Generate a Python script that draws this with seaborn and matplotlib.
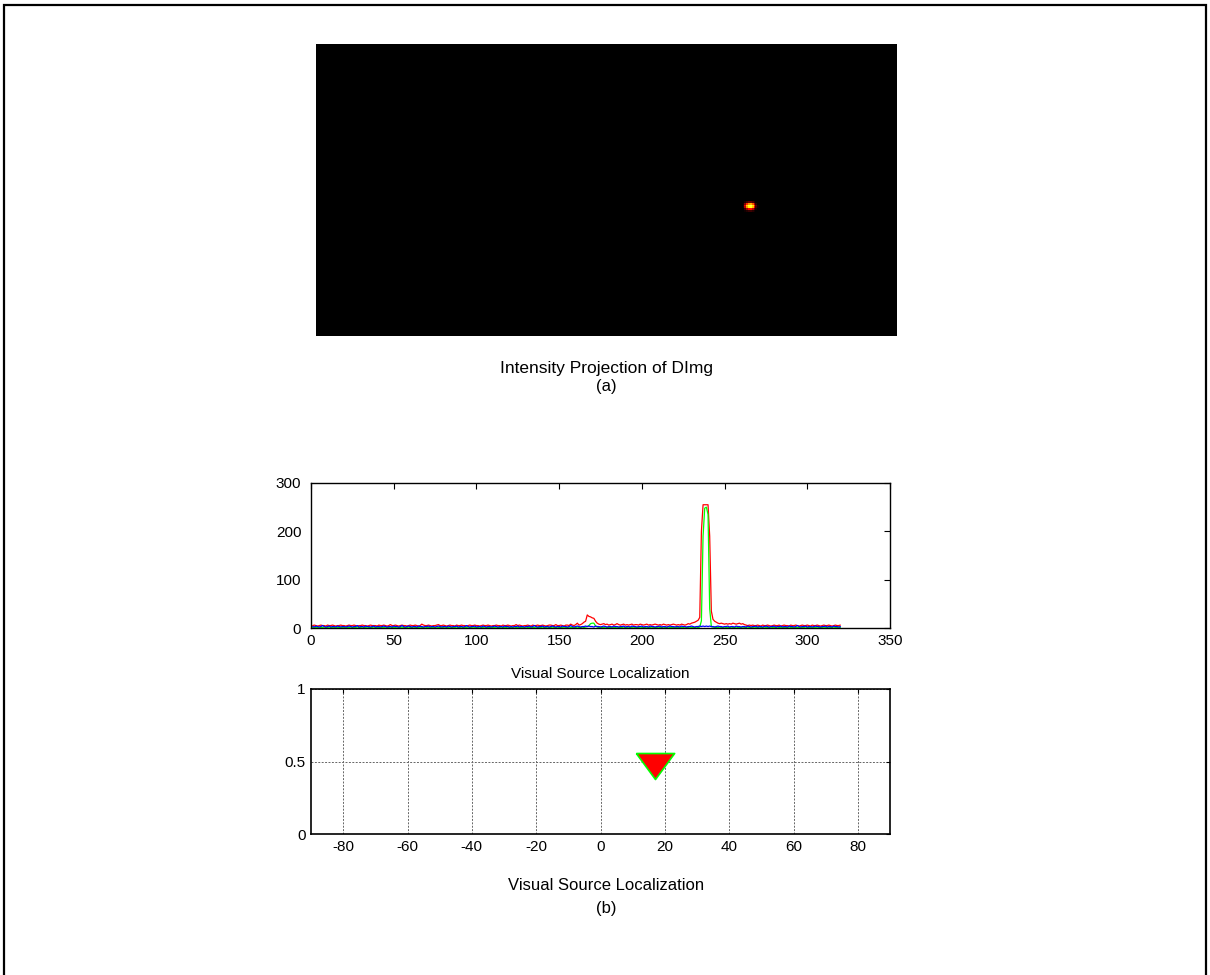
import numpy as np
import pandas as pd
import matplotlib
matplotlib.use("Agg")
import matplotlib.pyplot as plt
from matplotlib.patches import Rectangle
import seaborn as sns

# ---- data -----------------------------------------------------------------
# Per-column intensity of the R, G, B channels (columns 1..320)
red = [
    5, 6, 5, 4, 5, 6, 5, 5, 4, 6, 5, 5, 6, 5, 4, 5, 5, 6, 5, 5,
    4, 5, 6, 5, 5, 6, 5, 4, 5, 5, 6, 5, 5, 4, 5, 6, 5, 5, 5, 4,
    6, 5, 5, 6, 5, 4, 5, 7, 5, 5, 6, 5, 4, 5, 6, 5, 5, 4, 5, 6,
    5, 5, 6, 5, 4, 5, 8, 6, 5, 5, 6, 5, 4, 5, 5, 6, 7, 5, 5, 6,
    5, 4, 5, 6, 5, 5, 4, 6, 5, 5, 6, 5, 5, 4, 5, 6, 5, 5, 6, 5,
    5, 4, 5, 6, 5, 5, 6, 5, 4, 5, 5, 6, 5, 5, 4, 6, 5, 5, 6, 5,
    4, 5, 5, 7, 5, 6, 5, 4, 5, 5, 6, 5, 4, 6, 5, 5, 6, 5, 5, 6,
    5, 4, 5, 6, 6, 5, 5, 7, 5, 5, 6, 5, 4, 6, 6, 5, 8, 6, 5, 7,
    10, 6, 7, 9, 12, 14, 27, 24, 23, 21, 20, 14, 10, 8, 7, 8, 9, 7, 8, 6,
    7, 8, 6, 7, 9, 7, 6, 7, 8, 6, 7, 6, 7, 8, 6, 7, 7, 6, 8, 7,
    6, 7, 8, 6, 7, 6, 7, 8, 7, 6, 7, 6, 8, 7, 6, 7, 6, 7, 8, 7,
    6, 7, 6, 8, 7, 6, 7, 9, 8, 10, 11, 12, 14, 16, 22, 200, 255, 255, 255, 255,
    190, 35, 18, 14, 12, 10, 9, 10, 9, 8, 9, 8, 9, 8, 10, 9, 8, 9, 10, 8,
    9, 7, 6, 5, 6, 5, 6, 5, 5, 6, 5, 4, 6, 5, 5, 6, 5, 4, 5, 6,
    5, 5, 6, 4, 5, 6, 5, 5, 4, 6, 5, 5, 6, 5, 4, 5, 6, 5, 5, 6,
    5, 4, 6, 5, 5, 6, 5, 4, 5, 6, 5, 5, 6, 5, 4, 5, 6, 5, 5, 6,
]
green = [
    1, 2, 1, 1, 2, 1, 1, 2, 1, 1, 2, 1, 1, 1, 2, 1, 1, 2, 1, 1,
    2, 1, 1, 2, 1, 1, 1, 2, 1, 1, 2, 1, 1, 2, 1, 1, 1, 2, 1, 1,
    1, 2, 1, 1, 2, 1, 1, 2, 1, 1, 1, 2, 1, 1, 2, 1, 1, 1, 2, 1,
    1, 2, 1, 1, 1, 2, 1, 1, 2, 1, 1, 2, 1, 1, 1, 2, 1, 1, 2, 1,
    2, 1, 1, 2, 1, 1, 1, 2, 1, 1, 2, 1, 1, 1, 2, 1, 1, 2, 1, 1,
    1, 2, 1, 1, 2, 1, 1, 1, 2, 1, 1, 2, 1, 1, 2, 1, 1, 1, 2, 1,
    1, 1, 2, 1, 1, 2, 1, 1, 1, 2, 1, 1, 2, 1, 1, 2, 1, 1, 1, 2,
    1, 1, 2, 1, 1, 2, 1, 1, 2, 1, 1, 1, 2, 1, 1, 2, 1, 1, 2, 1,
    2, 1, 1, 2, 1, 2, 3, 5, 9, 10, 10, 4, 2, 1, 2, 1, 1, 2, 1, 1,
    1, 2, 1, 1, 2, 1, 1, 1, 2, 1, 1, 2, 1, 1, 2, 1, 1, 1, 2, 1,
    1, 1, 2, 1, 1, 2, 1, 1, 1, 2, 1, 1, 2, 1, 1, 2, 1, 1, 1, 2,
    1, 1, 2, 1, 1, 2, 1, 1, 2, 1, 1, 1, 2, 1, 2, 15, 190, 248, 250, 235,
    40, 3, 2, 2, 1, 1, 2, 1, 1, 2, 1, 1, 1, 2, 1, 1, 2, 1, 1, 1,
    2, 1, 1, 2, 1, 1, 1, 2, 1, 1, 2, 1, 1, 2, 1, 1, 1, 2, 1, 1,
    1, 2, 1, 1, 2, 1, 1, 1, 2, 1, 1, 2, 1, 1, 1, 2, 1, 1, 2, 1,
    1, 1, 2, 1, 1, 2, 1, 1, 1, 2, 1, 1, 2, 1, 1, 2, 1, 1, 2, 1,
]
blue = [
    3, 2, 4, 3, 2, 3, 5, 3, 2, 3, 4, 2, 3, 3, 2, 4, 3, 2, 3, 3,
    2, 3, 4, 3, 2, 3, 3, 5, 2, 3, 3, 2, 4, 3, 3, 2, 3, 4, 2, 3,
    3, 2, 3, 4, 3, 2, 3, 3, 2, 4, 3, 3, 2, 3, 5, 3, 2, 3, 4, 3,
    2, 3, 3, 2, 4, 3, 3, 2, 3, 3, 4, 2, 3, 3, 2, 3, 4, 3, 2, 3,
    3, 2, 4, 3, 2, 3, 3, 4, 2, 3, 3, 2, 3, 5, 3, 2, 3, 3, 4, 2,
    3, 3, 2, 4, 3, 2, 3, 3, 2, 3, 4, 3, 2, 3, 3, 2, 4, 3, 3, 2,
    3, 2, 3, 3, 4, 2, 3, 3, 2, 3, 3, 4, 2, 3, 5, 3, 2, 3, 3, 4,
    2, 3, 3, 2, 3, 4, 3, 2, 3, 3, 2, 4, 3, 3, 2, 3, 5, 3, 2, 3,
    4, 3, 2, 3, 3, 4, 3, 4, 3, 3, 2, 4, 3, 3, 2, 3, 4, 3, 2, 3,
    3, 2, 4, 3, 3, 2, 3, 3, 4, 2, 3, 3, 2, 4, 3, 3, 2, 3, 3, 4,
    2, 3, 3, 2, 4, 3, 3, 2, 3, 3, 4, 2, 3, 3, 2, 3, 4, 3, 3, 2,
    3, 3, 2, 4, 3, 3, 2, 3, 3, 4, 3, 2, 3, 3, 4, 3, 4, 3, 4, 3,
    4, 3, 3, 2, 3, 4, 3, 3, 2, 3, 3, 4, 2, 3, 3, 2, 4, 3, 3, 2,
    3, 3, 2, 4, 3, 2, 3, 3, 4, 2, 3, 3, 2, 3, 4, 3, 2, 3, 3, 4,
    2, 3, 3, 4, 2, 3, 3, 2, 4, 3, 3, 2, 3, 5, 3, 2, 3, 3, 4, 2,
    3, 3, 2, 3, 4, 3, 3, 2, 3, 3, 4, 2, 3, 3, 2, 4, 3, 3, 2, 3,
]
columns = list(range(1, len(red) + 1))

# Intensity projection image: dark frame with one bright spot
img_height, img_width = 160, 320
spot_row, spot_col = 86, 235          # top-left of the spot patch
spot_patch = [
    [0, 6, 20, 32, 34, 24, 9, 0, 0],
    [4, 45, 110, 150, 160, 125, 60, 12, 0],
    [10, 85, 175, 205, 212, 185, 110, 30, 3],
    [7, 65, 150, 190, 198, 165, 85, 20, 2],
    [0, 20, 60, 90, 95, 68, 28, 5, 0],
    [0, 2, 10, 18, 20, 12, 3, 0, 0],
]

# Estimated source direction (degrees) and its plotted height
source_angle = [17]
source_level = [0.5]

# tick labels
hist_xticks = [0, 50, 100, 150, 200, 250, 300, 350]
hist_yticks = [0, 100, 200, 300]
loc_xticks = [-80, -60, -40, -20, 0, 20, 40, 60, 80]
loc_yticks = [0, 0.5, 1]

# ---- style ----------------------------------------------------------------
sns.set_style("white")
plt.rcParams["font.family"] = ["Liberation Sans", "DejaVu Sans"]
plt.rcParams["axes.unicode_minus"] = False
plt.rcParams["axes.linewidth"] = 1.0
plt.rcParams["text.color"] = "black"
plt.rcParams["xtick.color"] = "black"
plt.rcParams["ytick.color"] = "black"
plt.rcParams["xtick.labelcolor"] = "black"
plt.rcParams["ytick.labelcolor"] = "black"
plt.rcParams["xtick.direction"] = "in"
plt.rcParams["ytick.direction"] = "in"

W, H = 1210, 975
fig = plt.figure(figsize=(W / 100, H / 100), dpi=100)
fig.patch.set_facecolor("white")


def box(left, top, right, bottom):
    return [left / W, 1 - bottom / H, (right - left) / W, (bottom - top) / H]


# ---- (a) intensity projection ----------------------------------------------
image = np.zeros((img_height, img_width))
patch = np.array(spot_patch, dtype=float)
image[spot_row:spot_row + patch.shape[0], spot_col:spot_col + patch.shape[1]] = patch

hot = plt.get_cmap("hot").copy()
hot.set_under("black")

ax_img = fig.add_axes(box(316, 44, 897, 336))
sns.heatmap(image, ax=ax_img, cmap=hot, vmin=0.5, vmax=255, cbar=False,
            xticklabels=False, yticklabels=False)
ax_img.set_xlabel("")
ax_img.set_ylabel("")

fig.text(606 / W, 1 - 368 / H, "Intensity Projection of DImg",
         ha="center", va="center", fontsize=12.5)
fig.text(606 / W, 1 - 386 / H, "(a)", ha="center", va="center", fontsize=12)

# ---- channel profile -------------------------------------------------------
profile = pd.DataFrame({"column": columns, "red": red, "green": green, "blue": blue})
ax_prof = fig.add_axes(box(311, 483, 890, 628))
for channel, colour in [("red", "#ff0000"), ("green", "#00ff00"), ("blue", "#0000ff")]:
    sns.lineplot(data=profile, x="column", y=channel, ax=ax_prof,
                 color=colour, linewidth=0.9)
ax_prof.set_xlim(0, 350)
ax_prof.set_ylim(0, 300)
ax_prof.set_xticks(hist_xticks)
ax_prof.set_yticks(hist_yticks)
ax_prof.set_xlabel("")
ax_prof.set_ylabel("")
ax_prof.tick_params(axis="both", which="both", labelsize=11, length=4,
                    width=0.8, top=True, right=True)
ax_prof.tick_params(axis="y", pad=7)
ax_prof.tick_params(axis="x", pad=4)
for s in ax_prof.spines.values():
    s.set_color("black")
    s.set_zorder(3)

# ---- (b) source localization ----------------------------------------------
ax_loc = fig.add_axes(box(311, 689, 890, 834))
ax_loc.set_xlim(-90, 90)
ax_loc.set_ylim(0, 1)
ax_loc.set_xticks(loc_xticks)
ax_loc.set_yticks(loc_yticks)
ax_loc.set_yticklabels(["0", "0.5", "1"])
ax_loc.grid(True, linestyle=(0, (2, 1.5)), color="0.4", linewidth=0.7)
ax_loc.set_axisbelow(True)
ax_loc.tick_params(axis="both", which="both", labelsize=11, length=3,
                   width=0.8, top=True, right=True, pad=4)
for s in ax_loc.spines.values():
    s.set_color("black")
    s.set_linewidth(1.2)

# down-pointing triangle, wider than tall, anchored slightly below its top edge
tri = [(-1.0, 0.47), (1.0, 0.47), (0.0, -0.89), (-1.0, 0.47)]
loc_df = pd.DataFrame({"angle": source_angle, "level": source_level})
sns.scatterplot(data=loc_df, x="angle", y="level", ax=ax_loc, marker=tri,
                s=760, color="#ff0000", edgecolor="#00ff00", linewidth=1.2,
                zorder=5)
ax_loc.set_xlabel("")
ax_loc.set_ylabel("")
ax_loc.set_title("Visual Source Localization", fontsize=11, pad=8)

fig.text(606 / W, 1 - 886 / H, "Visual Source Localization",
         ha="center", va="center", fontsize=12)
fig.text(606 / W, 1 - 909 / H, "(b)", ha="center", va="center", fontsize=12)

# outer frame (open at the bottom edge of the canvas)
fig.add_artist(Rectangle((3.5 / W, -0.05), (1206 - 3.5) / W, 1.05 - 4.5 / H,
                         transform=fig.transFigure, fill=False,
                         edgecolor="black", linewidth=1.6, clip_on=False))

fig.savefig("out.png", dpi=100, facecolor="white")
